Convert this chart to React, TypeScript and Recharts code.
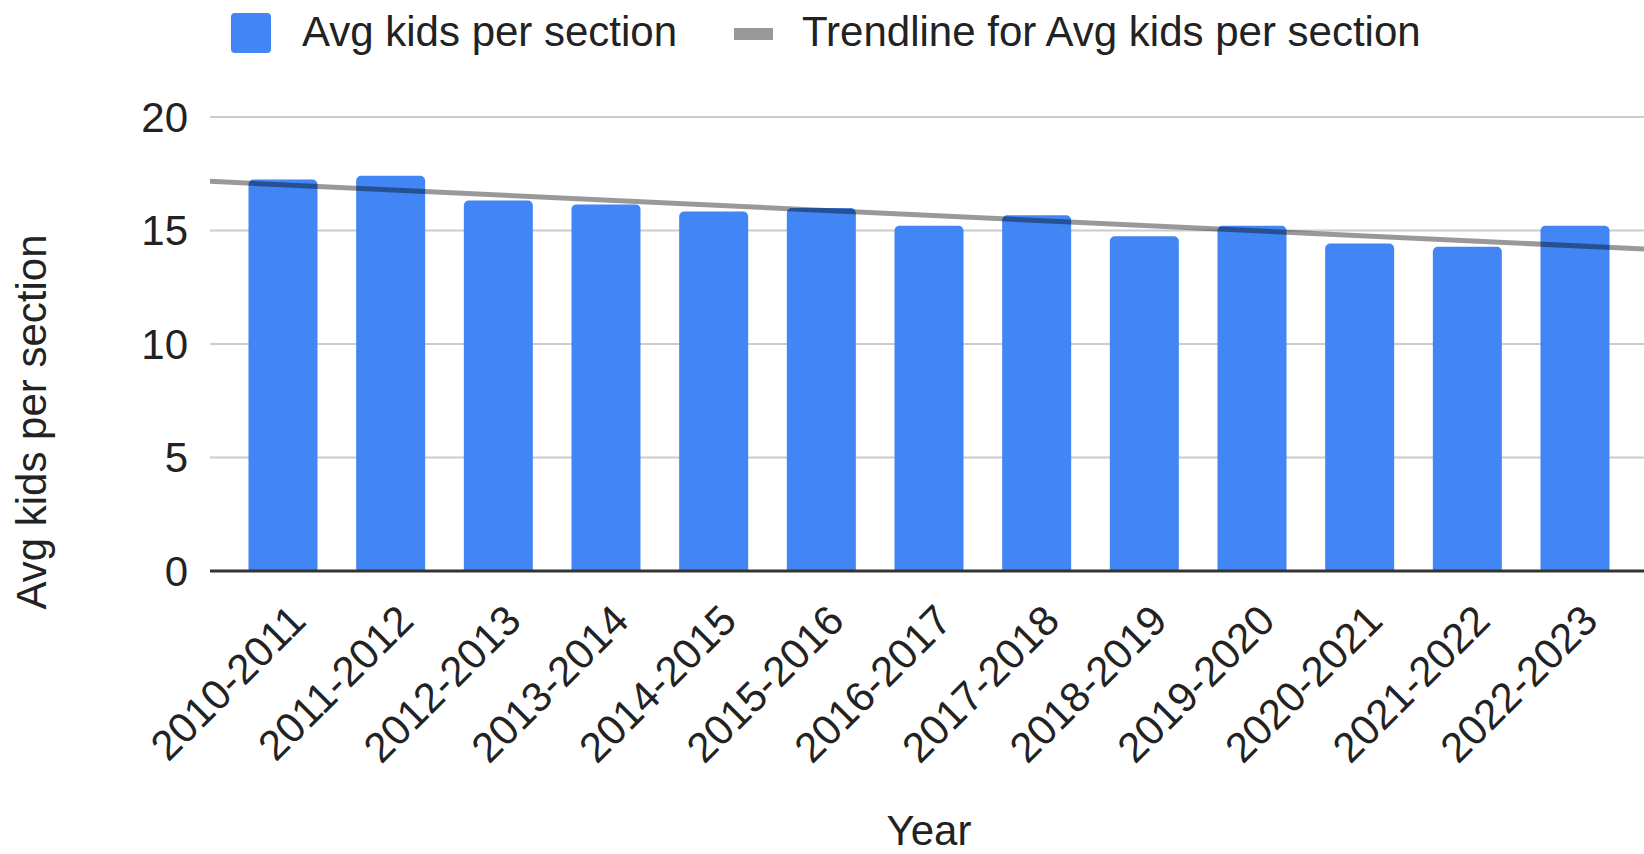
import { ComposedChart, Bar, Line, XAxis, YAxis, CartesianGrid, Label } from 'recharts';

const years = [
  '2010-2011', '2011-2012', '2012-2013', '2013-2014', '2014-2015', '2015-2016', '2016-2017',
  '2017-2018', '2018-2019', '2019-2020', '2020-2021', '2021-2022', '2022-2023',
];
const avgKids = [17.25, 17.41, 16.32, 16.15, 15.84, 15.99, 15.21, 15.67, 14.75, 15.21, 14.43, 14.28, 15.21];
const yTicks = [0, 5, 10, 15, 20];
const xDomain: [number, number] = [-0.678, 12.678];

const FONT = '"Liberation Sans", Arial, sans-serif';
const FONT_SIZE = 42;
const BLUE = '#4285f4';
const TEXT = '#222222';

// linear least-squares trend over the year index
const trend = (() => {
  const n = avgKids.length;
  const mx = (n - 1) / 2;
  const my = avgKids.reduce((s, v) => s + v, 0) / n;
  let sxy = 0;
  let sxx = 0;
  avgKids.forEach((v, i) => {
    sxy += (i - mx) * (v - my);
    sxx += (i - mx) * (i - mx);
  });
  const slope = sxy / sxx;
  return xDomain.map((x) => ({ x, trend: my + slope * (x - mx) }));
})();

const chartData = years.map((year, i) => ({ x: i, year, avg: avgKids[i] }));

function YearTick({ x, y, payload }: any) {
  return (
    <g transform={`translate(${x + 25},${y + 44})`}>
      <text transform="rotate(-45)" textAnchor="end" fontSize={FONT_SIZE} fill={TEXT} fontFamily={FONT}>
        {years[payload.value]}
      </text>
    </g>
  );
}

function LegendRow() {
  return (
    <div
      style={{
        position: 'absolute',
        left: 0,
        top: 0,
        height: 66,
        width: 1644,
        fontFamily: FONT,
        fontSize: FONT_SIZE,
        color: TEXT,
      }}
    >
      <div style={{ position: 'absolute', left: 231, top: 13, width: 40, height: 40, background: BLUE, borderRadius: 4 }} />
      <div style={{ position: 'absolute', left: 302, top: 8, lineHeight: '48px' }}>Avg kids per section</div>
      <div style={{ position: 'absolute', left: 734, top: 28, width: 39, height: 12, background: '#999999' }} />
      <div style={{ position: 'absolute', left: 802, top: 8, lineHeight: '48px' }}>Trendline for Avg kids per section</div>
    </div>
  );
}

export default function App() {
  return (
    <div
      style={{
        position: 'fixed',
        left: 0,
        top: 0,
        width: 1644,
        height: 854,
        overflow: 'hidden',
        background: '#ffffff',
      }}
    >
      <ComposedChart
        width={1660}
        height={854}
        data={chartData}
        margin={{ top: 117, right: 12, bottom: 0, left: 0 }}
      >
        <CartesianGrid vertical={false} stroke="#cccccc" strokeWidth={2} />
        <XAxis
          dataKey="x"
          type="number"
          domain={xDomain}
          allowDataOverflow
          ticks={years.map((_, i) => i)}
          interval={0}
          height={283}
          tick={<YearTick />}
          tickLine={false}
          axisLine={{ stroke: '#333333', strokeWidth: 3 }}
        >
          <Label
            content={() => (
              <text x={929} y={845} textAnchor="middle" fontSize={FONT_SIZE} fill={TEXT} fontFamily={FONT}>
                Year
              </text>
            )}
          />
        </XAxis>
        <YAxis
          type="number"
          domain={[0, 20]}
          ticks={yTicks}
          width={210}
          tickLine={false}
          axisLine={false}
          tickMargin={16}
          tick={{ fontSize: FONT_SIZE, fill: TEXT, fontFamily: FONT }}
        >
          <Label
            content={() => (
              <text
                x={46}
                y={422}
                transform="rotate(-90, 46, 422)"
                textAnchor="middle"
                fontSize={FONT_SIZE}
                fill={TEXT}
                fontFamily={FONT}
              >
                Avg kids per section
              </text>
            )}
          />
        </YAxis>
        <Bar dataKey="avg" fill={BLUE} barSize={69} radius={[5, 5, 0, 0]} isAnimationActive={false} />
        <Line
          data={trend}
          dataKey="trend"
          type="linear"
          stroke="#000000"
          strokeOpacity={0.4}
          strokeWidth={5}
          dot={false}
          activeDot={false}
          isAnimationActive={false}
        />
      </ComposedChart>
      <LegendRow />
    </div>
  );
}
